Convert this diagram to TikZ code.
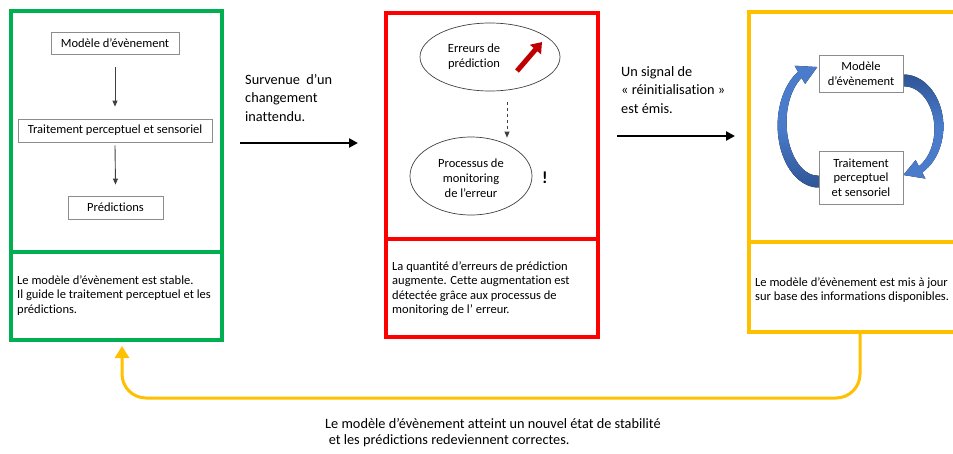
\documentclass[tikz,border=0pt]{standalone}
\usepackage{fontspec}
\setmainfont{Carlito}[Ligatures={NoCommon}]
\usetikzlibrary{arrows.meta,shapes.geometric,calc,backgrounds}
\definecolor{okgreen}{HTML}{00B050}
\definecolor{alertred}{HTML}{FF0000}
\definecolor{gold}{HTML}{FFC000}
\definecolor{darkred}{HTML}{C00000}
\definecolor{arrowblue}{HTML}{4A7CCB}
\definecolor{deepblue}{HTML}{2F5597}
\definecolor{boxgray}{HTML}{8C8C8C}
\definecolor{inkgray}{HTML}{404040}

\begin{document}
\begin{tikzpicture}[x=1pt,y=-1pt,
  panel/.style={draw=#1, line width=4pt, rectangle, inner sep=0pt, anchor=north west},
  divider/.style={draw=#1, line width=3.5pt},
  procbox/.style={draw=boxgray, line width=0.8pt, fill=white, inner sep=1pt, align=center,
    font=\fontsize{12.5}{14.6}\selectfont},
  oval/.style={ellipse, draw=inkgray, line width=0.7pt, inner sep=0pt},
  ovaltext/.style={align=center, inner sep=0pt, font=\fontsize{12.5}{14.8}\selectfont},
  paneltext/.style={align=left, inner sep=0pt, anchor=north west, font=\fontsize{12.5}{14.6}\selectfont},
  steplabel/.style={align=left, inner sep=0pt, anchor=north west, font=\fontsize{14.3}{18.5}\selectfont},
  flowarrow/.style={draw=inkgray, line width=0.9pt, -{Triangle[length=6pt,width=5pt]}},
  transition/.style={draw=black, line width=2.4pt, -{Triangle[length=9pt,width=9pt]}},
]
\useasboundingbox (0,0) rectangle (953,453);
\clip (0,0) rectangle (953,453);

% ---------- panel 1: stable model ----------
\node[panel=okgreen, minimum width=211pt, minimum height=329pt] (P1) at (9,9) {};
\draw[divider=okgreen] (P1.west |- 0,252) -- (P1.east |- 0,252);
\node[procbox, minimum width=128pt, minimum height=22pt] (m1) at (115,43) {Modèle d’évènement};
\node[procbox, minimum width=194pt, minimum height=23pt] (t1) at (115,130.5) {Traitement perceptuel et sensoriel};
\node[procbox, minimum width=95pt, minimum height=23pt] (p1) at (115.5,207.5) {Prédictions};
\draw[flowarrow] ([yshift=-13pt]m1.south) -- ([yshift=12pt]t1.north);
\draw[flowarrow] ([yshift=-3pt]t1.south) -- ([yshift=11pt]p1.north);
\node[paneltext] (d1) at (17,275) {Le modèle d’évènement est stable.\\Il guide le traitement perceptuel et les\\prédictions.};

% ---------- panel 2: rising prediction error ----------
\node[panel=alertred, minimum width=212pt, minimum height=324pt] (P2) at (384,11) {};
\draw[divider=alertred] (P2.west |- 0,239) -- (P2.east |- 0,239);
\node[oval, minimum width=140pt, minimum height=68pt] (e1) at (490,57) {};
\node[ovaltext] (e1t) at (474,57) {Erreurs de\\prédiction};
\node[oval, minimum width=122pt, minimum height=78pt] (e2) at (471,176) {};
\node[ovaltext] (e2t) at (471,178) {Processus de\\monitoring\\de l’erreur};
\draw[draw=inkgray, line width=0.7pt, dashed, -{Triangle[length=6pt,width=5pt]}]
  ($(e1.south)+(17,11)$) -- ($(e2.north)+(36,1)$);
\coordinate (riseA) at (517,71);
\coordinate (riseB) at (542,42);
\draw[draw=darkred, line width=5pt, -{Triangle[length=10pt,width=14pt]}] (riseA) -- (riseB);
\node[font=\fontsize{17}{17}\selectfont\bfseries, inner sep=0pt] (bang) at (545,178) {!};
\node[paneltext] (d2) at (392,261) {La quantité d’erreurs de prédiction\\augmente. Cette augmentation est\\détectée grâce aux processus de\\monitoring de l’ erreur.};

% ---------- panel 3: model update ----------
\node[panel=gold, minimum width=215pt, minimum height=320pt] (P3) at (747,10) {};
\draw[divider=gold] (P3.west |- 0,242) -- (P3.east |- 0,242);
\node[procbox, minimum width=84pt, minimum height=37pt] (m3) at (861,73.5) {Modèle\\d’évènement};
\node[procbox, minimum width=84pt, minimum height=53pt] (t3) at (861,177.5) {Traitement\\perceptuel\\et sensoriel};
\coordinate (lc) at ($(m3.west)!0.5!(t3.west)$);
\coordinate (rc) at ($(m3.east)!0.5!(t3.east)+(0,1)$);
\begin{pgfonlayer}{background}
  % left curved arrow: from the processing box up to the model box
  \begin{scope}[shift={(lc)}]
    \fill[top color=arrowblue, bottom color=deepblue, middle color=arrowblue]
      plot[domain=90:240, samples=60, variable=\t] ({41*cos(\t)},{62*sin(\t)})
      -- ({48*cos(240)},{69*sin(240)})
      -- ({37.5*cos(268)},{58.5*sin(268)})
      -- ({27*cos(240)},{48*sin(240)})
      -- plot[domain=240:90, samples=60, variable=\t]
        ({(41-7-5*(240-\t)/150)*cos(\t)},{(62-7-5*(240-\t)/150)*sin(\t)})
      -- cycle;
  \end{scope}
  % right curved arrow: from the model box down to the processing box
  \begin{scope}[shift={(rc)}]
    \fill[top color=deepblue, bottom color=arrowblue, middle color=arrowblue]
      plot[domain=-90:62, samples=60, variable=\t] ({40*cos(\t)},{52*sin(\t)})
      -- ({47*cos(62)},{59*sin(62)})
      -- ({36.5*cos(90)},{48.5*sin(90)})
      -- ({26*cos(62)},{38*sin(62)})
      -- plot[domain=62:-90, samples=60, variable=\t]
        ({(40-7-5*(62-\t)/152)*cos(\t)},{(52-7-5*(62-\t)/152)*sin(\t)})
      -- cycle;
  \end{scope}
\end{pgfonlayer}
\node[paneltext] (d3) at (755,277) {Le modèle d’évènement est mis à jour\\sur base des informations disponibles.};

% ---------- transitions between panels ----------
\node[steplabel] (l1) at (245,74) {Survenue\hspace{0.45em}d’un\\changement\\inattendu.};
\coordinate (s1) at (240,143);
\coordinate (e1a) at (358,143);
\draw[transition] (s1) -- (e1a);
\node[steplabel] (l2) at (621,66) {Un signal de\\« réinitialisation »\\est émis.};
\coordinate (s2) at (617,136);
\coordinate (e2a) at (735,136);
\draw[transition] (s2) -- (e2a);

% ---------- return loop to the stable state ----------
\coordinate (backStart) at (860,332);
\coordinate (backEnd) at (122,346);
\draw[draw=gold, line width=3pt, rounded corners=24pt, -{Triangle[length=12pt,width=14pt]}]
  (backStart) -- (860,398) -- (122,398) -- (backEnd);
\node[align=left, inner sep=0pt, anchor=north west, font=\fontsize{14.3}{16.5}\selectfont] (l3) at (325,418)
  {Le modèle d’évènement atteint un nouvel état de stabilité\\\hspace{0.25em}et les prédictions redeviennent correctes.};
\end{tikzpicture}
\end{document}
